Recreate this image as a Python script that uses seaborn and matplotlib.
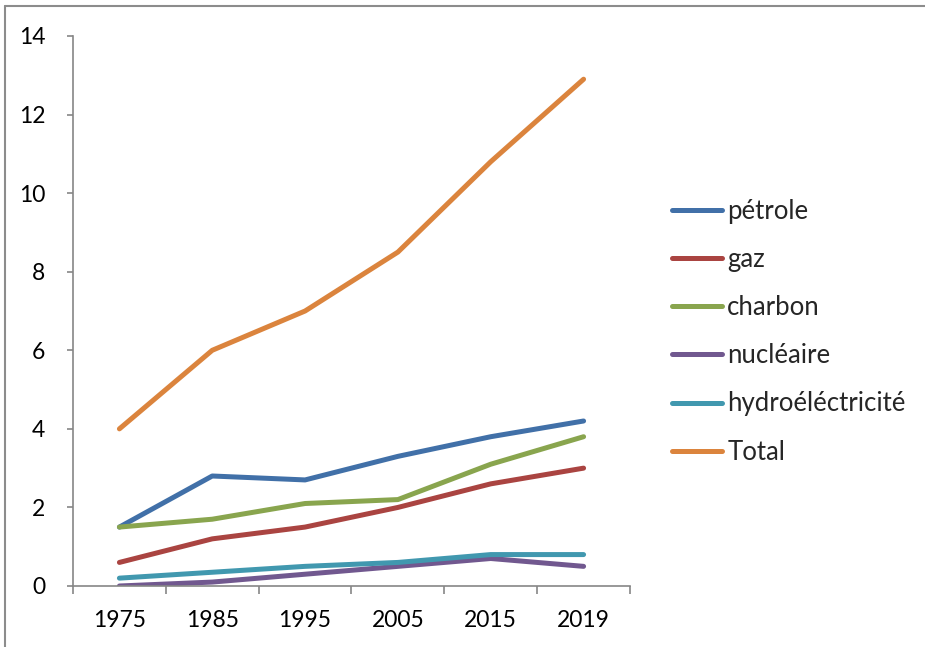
import matplotlib
matplotlib.use("Agg")
import matplotlib.pyplot as plt
import seaborn as sns
import pandas as pd
from matplotlib.lines import Line2D

# Consommation mondiale d'énergie par source
years = ["1975", "1985", "1995", "2005", "2015", "2019"]
petrole = [1.5, 2.8, 2.7, 3.3, 3.8, 4.2]
gaz = [0.6, 1.2, 1.5, 2.0, 2.6, 3.0]
charbon = [1.5, 1.7, 2.1, 2.2, 3.1, 3.8]
nucleaire = [0.0, 0.1, 0.3, 0.5, 0.7, 0.5]
hydro = [0.2, 0.35, 0.5, 0.6, 0.8, 0.8]
total = [4.0, 6.0, 7.0, 8.5, 10.8, 12.9]

series_names = ["pétrole", "gaz", "charbon", "nucléaire", "hydroéléctricité", "Total"]
series_values = [petrole, gaz, charbon, nucleaire, hydro, total]
colors = ["#4170A8", "#AA4441", "#89A54E", "#71588F", "#4198AF", "#DB843D"]

rows = []
for name, vals in zip(series_names, series_values):
    for i, v in enumerate(vals):
        rows.append({"pos": i, "valeur": v, "source": name})
df = pd.DataFrame(rows)

sns.set_style("white")
plt.rcParams["font.family"] = ["Lato", "DejaVu Sans"]

fig = plt.figure(figsize=(9.25, 6.47), dpi=100)
ax = fig.add_axes([73 / 925, 1 - 586 / 647, (630 - 73) / 925, (586 - 36) / 647])

sns.lineplot(data=df, x="pos", y="valeur", hue="source", hue_order=series_names,
             palette=colors, linewidth=3.6, ax=ax, legend=False,
             solid_capstyle="round", solid_joinstyle="round")

ax.set_xlim(-0.5, len(years) - 0.5)
ax.set_ylim(0, 14)
ax.set_yticks(range(0, 15, 2))
ax.set_xticks(range(len(years)))
ax.set_xticklabels(years)
ax.set_xticks([i - 0.5 for i in range(len(years) + 1)], minor=True)
ax.set_xlabel("")
ax.set_ylabel("")

grey = "#868686"
for side in ["top", "right"]:
    ax.spines[side].set_visible(False)
for side in ["left", "bottom"]:
    ax.spines[side].set_color(grey)
    ax.spines[side].set_linewidth(1.2)

ax.tick_params(axis="x", which="major", length=0, pad=17, labelsize=16.5, colors="black")
ax.tick_params(axis="x", which="minor", length=6, width=1.2, color=grey, direction="out", bottom=True)
ax.tick_params(axis="y", which="major", length=4, width=1.2, color=grey, direction="out",
               pad=16, labelsize=16.5, labelcolor="black", left=True)

handles = [Line2D([0], [0], color=c, linewidth=3.6, solid_capstyle="round") for c in colors]
fig.legend(handles, series_names, loc="upper left", bbox_to_anchor=(671.5 / 925, 1 - 199 / 647),
           frameon=False, fontsize=18.5, handlelength=1.98, handletextpad=0.19,
           labelspacing=0.9, borderaxespad=0, borderpad=0)

# cadre du graphique (bords gauche et haut)
fig.add_artist(Line2D([4.5 / 925, 4.5 / 925], [0, 1 - 6 / 647], transform=fig.transFigure,
                      color="#8c8c8c", linewidth=1.5))
fig.add_artist(Line2D([4.5 / 925, 1], [1 - 6 / 647, 1 - 6 / 647], transform=fig.transFigure,
                      color="#8c8c8c", linewidth=1.5))

fig.savefig("out.png", dpi=100, facecolor="white")
